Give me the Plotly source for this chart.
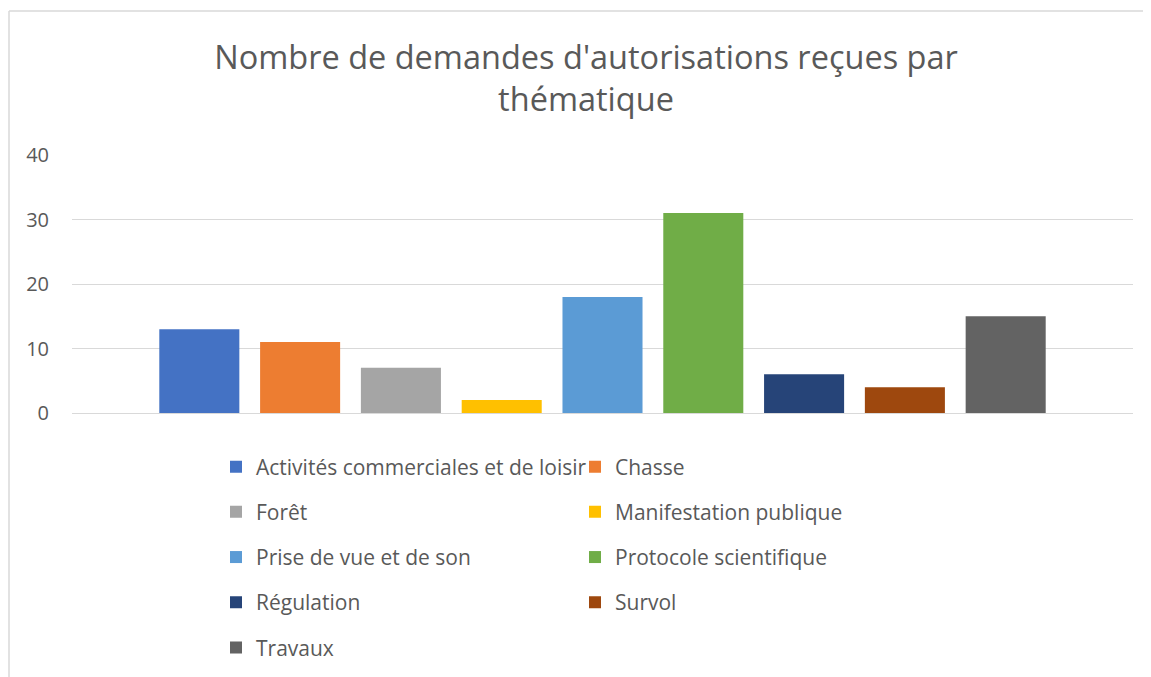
import plotly.graph_objects as go

# données
themes = ["Activités commerciales et de loisir", "Chasse", "Forêt", "Manifestation publique",
          "Prise de vue et de son", "Protocole scientifique", "Régulation", "Survol", "Travaux"]
demandes = [13, 11, 7, 2, 18, 31, 6, 4, 15]
couleurs = ["#4472C4", "#ED7D31", "#A5A5A5", "#FFC000", "#5B9BD5",
            "#70AD47", "#264478", "#9E480E", "#636363"]
categorie = ["Demandes"]

# la page html ajoute 8 px de marge au body : figure un peu plus petite
W, H = 1143, 669
L, R, T, B = 64, 18, 147, 264
police = "Open Sans"
gris_texte = "#595959"

fig = go.Figure()
legends = {}
for i, (nom, val, col) in enumerate(zip(themes, demandes, couleurs)):
    lid = "legend" if i == 0 else "legend%d" % (i + 1)
    fig.add_trace(go.Bar(x=categorie, y=[val], name=nom, marker=dict(color=col, line=dict(width=0)),
                         legend=lid))
    # legende sur 2 colonnes, une entree par legende
    row, colm = divmod(i, 2)
    x_px = 208 + colm * 359
    y_px = 459 + row * 45.2
    legends[lid] = dict(xref="container", yref="container", x=x_px / W, y=1 - y_px / H,
                        xanchor="left", yanchor="middle", orientation="h",
                        font=dict(family=police, size=21, color=gris_texte),
                        bgcolor="rgba(0,0,0,0)", borderwidth=0)

fig.update_layout(
    width=W, height=H,
    margin=dict(l=L, r=R, t=T, b=B),
    paper_bgcolor="white", plot_bgcolor="white",
    font=dict(family=police, color=gris_texte),
    title=dict(text="Nombre de demandes d'autorisations reçues par<br>thématique",
               font=dict(family=police, size=32.5, color=gris_texte),
               xref="container", yref="container", x=578 / W, xanchor="center",
               y=1 - 61 / H, yanchor="top"),
    barmode="group", bargap=0.145, bargroupgap=0.206,
    showlegend=True,
    **legends,
)
fig.update_xaxes(showticklabels=False, showgrid=False, zeroline=False, showline=False)
fig.update_yaxes(range=[0, 40], dtick=10, showgrid=True, gridcolor="#D9D9D9", gridwidth=1.3,
                 zeroline=True, zerolinecolor="#D9D9D9", zerolinewidth=1.3, showline=False,
                 tickfont=dict(family=police, size=20, color=gris_texte), ticklabelstandoff=22)

# cadre du graphique (bord gauche et haut)
pw, ph = W - L - R, H - T - B
x_cadre = (1 - L) / pw
y_haut = (H - B - 3) / ph
fig.add_shape(type="line", xref="paper", yref="paper", x0=x_cadre, x1=(W + 5 - L) / pw,
              y0=y_haut, y1=y_haut, line=dict(color="#D9D9D9", width=1.5))
fig.add_shape(type="line", xref="paper", yref="paper", x0=x_cadre, x1=x_cadre,
              y0=y_haut, y1=-(B + 5) / ph, line=dict(color="#D9D9D9", width=1.5))

fig.write_html("out.html")
